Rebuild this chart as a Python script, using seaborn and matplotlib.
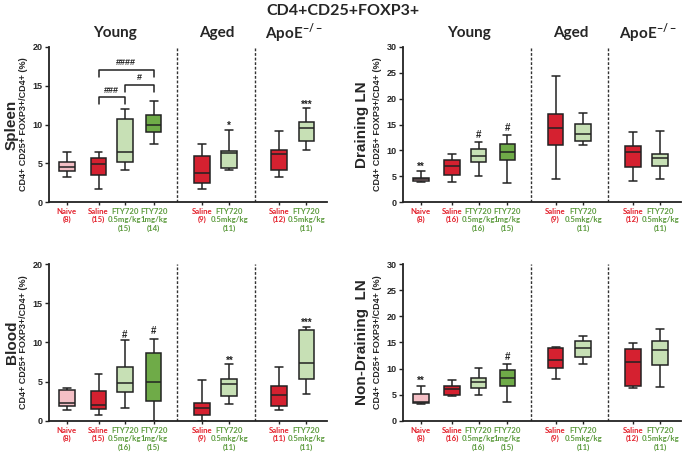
import numpy as np
import pandas as pd
import matplotlib.pyplot as plt
import matplotlib.transforms as mtransforms
import seaborn as sns

sns.set_theme(style="ticks")
plt.rcParams['font.family'] = ['Liberation Sans', 'DejaVu Sans']

# box positions along x, group of each box and its label
positions = [0, 1.15, 2.1, 3.15, 4.9, 5.9, 7.7, 8.7]
groups = ["Naive", "Saline", "FTY05", "FTY1", "Saline", "FTY05", "Saline", "FTY05"]
names = ["Naive", "Saline", "FTY720\n0.5mg/kg", "FTY720\n1mg/kg",
         "Saline", "FTY720\n0.5mkg/kg", "Saline", "FTY720\n0.5mkg/kg"]
label_colors = ["#e3202b", "#e3202b", "#5b9a3c", "#5b9a3c",
                "#e3202b", "#5b9a3c", "#e3202b", "#5b9a3c"]
label_nudge = [0, -2, -2, 5, -3, 3, -3, 3]  # px, keeps the crowded labels apart
palette = {"Naive": "#f4bfc5", "Saline": "#d52130", "FTY05": "#c7e0b5", "FTY1": "#6fab48"}
dividers = [4.0, 6.82]
headers = [("Young", 1.75), ("Aged", 5.45), ("ApoE$^{\\mathregular{-/-}}$", 8.25)]

# five-number summaries: min, q1, median, q3, max
spleen_stats = [[3.2, 4.05, 4.55, 5.2, 6.5], [1.7, 3.55, 4.9, 5.7, 6.4],
                [4.1, 5.1, 6.5, 10.65, 11.95], [7.55, 9.0, 9.9, 11.25, 13.0],
                [1.7, 2.4, 3.7, 6.0, 7.5], [4.1, 4.45, 6.35, 6.6, 9.35],
                [3.2, 4.1, 6.2, 6.7, 9.15], [6.75, 7.85, 9.55, 10.3, 12.1]]
draining_stats = [[3.8, 4.15, 4.4, 4.6, 6.0], [3.85, 5.3, 7.0, 8.15, 9.3],
                  [4.95, 7.65, 8.95, 10.35, 11.7], [3.65, 8.15, 9.65, 11.3, 12.9],
                  [4.5, 11.05, 14.25, 16.95, 24.4], [11.05, 11.8, 13.15, 15.05, 17.3],
                  [4.0, 6.7, 9.65, 10.85, 13.5], [4.5, 7.05, 8.6, 9.3, 13.75]]
blood_stats = [[1.45, 1.95, 2.3, 4.0, 4.25], [0.75, 1.55, 2.1, 3.8, 5.95],
               [1.7, 3.7, 4.9, 6.9, 10.3], [0.0, 2.5, 5.0, 8.6, 10.45],
               [0.0, 0.8, 1.7, 2.3, 5.25], [2.2, 3.2, 4.7, 5.35, 7.2],
               [1.35, 1.95, 3.35, 4.45, 6.9], [3.45, 5.3, 7.45, 11.65, 12.0]]
nondraining_stats = [[3.2, 3.45, 3.7, 5.15, 6.7], [4.7, 5.05, 6.1, 6.75, 7.8],
                     [5.0, 6.25, 7.4, 8.3, 10.2], [3.7, 6.75, 8.3, 9.8, 10.8],
                     [8.0, 10.2, 11.75, 13.9, 14.2], [10.8, 12.3, 14.0, 15.3, 16.25],
                     [6.3, 6.7, 11.25, 13.75, 14.9], [6.5, 10.7, 13.5, 15.25, 17.5]]

spleen_n = [8, 15, 15, 14, 9, 11, 12, 11]
draining_n = [8, 16, 16, 15, 9, 11, 12, 11]
blood_n = [8, 15, 16, 15, 9, 11, 11, 11]
nondraining_n = [8, 16, 16, 15, 9, 11, 12, 11]

# significance marks: (box index, text, y)
spleen_marks = [(5, "*", 9.8), (7, "***", 12.6)]
draining_marks = [(0, "**", 6.9), (2, "#", 13.0), (3, "#", 14.3)]
blood_marks = [(2, "#", 11.0), (3, "#", 11.5), (5, "**", 7.7), (7, "***", 12.5)]
nondraining_marks = [(0, "**", 7.6), (3, "#", 12.2)]
# spleen brackets: (from box, to box, y, text)
spleen_brackets = [(1, 2, 13.5, "###"), (2, 3, 15.1, "#"), (1, 3, 17.0, "####")]

fig = plt.figure(figsize=(6.85, 4.54), dpi=100)

panels = [
    ("Spleen", spleen_stats, spleen_n, 20, spleen_marks, [0.0715, 0.555, 0.406, 0.3415], True),
    ("Draining LN", draining_stats, draining_n, 30, draining_marks, [0.588, 0.555, 0.406, 0.3415], True),
    ("Blood", blood_stats, blood_n, 20, blood_marks, [0.0715, 0.0727, 0.406, 0.3458], False),
    ("Non-Draining  LN", nondraining_stats, nondraining_n, 30, nondraining_marks, [0.588, 0.0727, 0.406, 0.3458], False),
]

for title, stats, ns, ymax, marks, rect, top in panels:
    ax = fig.add_axes(rect)
    df = pd.DataFrame({
        "pos": np.repeat(positions, 5),
        "grp": np.repeat(groups, 5),
        "val": np.concatenate(stats),
    })
    sns.boxplot(data=df, x="pos", y="val", hue="grp", palette=palette,
                native_scale=True, whis=(0, 100), width=0.6, dodge=False,
                saturation=1, linecolor="#222222", linewidth=1.1,
                legend=False, ax=ax)
    for d in dividers:
        ax.axvline(d, color="#333333", lw=1, ls=(0, (2, 1.3)))
    for i, txt, y in marks:
        ax.text(positions[i], y, txt, ha="center", va="center",
                fontsize=7, fontweight="bold", color="#222222")
    if title == "Spleen":
        for a, b, y, txt in spleen_brackets:
            xa, xb = positions[a], positions[b]
            ax.plot([xa, xa, xb, xb], [y - 0.85, y, y, y - 0.85], color="#222222", lw=1.1)
            ax.text((xa + xb) / 2, y + 0.95, txt, ha="center", va="center",
                    fontsize=6.5, fontweight="bold", color="#222222")

    ax.set_xlim(-0.65, 9.45)
    ax.set_ylim(0, ymax)
    ax.set_yticks(range(0, ymax + 1, 5))
    ax.set_xticks(positions)
    ax.set_xticklabels([f"{nm}\n({n})" for nm, n in zip(names, ns)],
                       fontsize=5.6, fontweight="bold", family=["Lato", "DejaVu Sans"],
                       linespacing=1.25)
    for lbl, c, dx in zip(ax.get_xticklabels(), label_colors, label_nudge):
        lbl.set_color(c)
        lbl.set_transform(lbl.get_transform() +
                          mtransforms.ScaledTranslation(dx / 100, 0, fig.dpi_scale_trans))
    for lbl in ax.get_yticklabels():
        lbl.set_fontsize(6.5)
        lbl.set_fontweight("bold")
    ax.tick_params(axis="x", length=2.5, width=1, pad=1.5, color="#222222")
    ax.tick_params(axis="y", length=3, width=1, pad=1.5, color="#222222")
    for side in ["left", "bottom"]:
        ax.spines[side].set_linewidth(1.3)
        ax.spines[side].set_color("#222222")
    sns.despine(ax=ax)
    ax.set_xlabel("")
    ax.set_ylabel("CD4+ CD25+ FOXP3+/CD4+ (%)", fontsize=6.5, fontweight="bold", labelpad=3)
    ax.text(-0.133 if rect[0] < 0.5 else -0.147, 0.5, title, transform=ax.transAxes,
            rotation=90, ha="center", va="center", fontsize=11, fontweight="bold")
    if top:
        for txt, x in headers:
            ax.text(x, 1.09, txt, transform=ax.get_xaxis_transform(), ha="center",
                    va="center", fontsize=11, fontweight="bold", family=["Lato", "DejaVu Sans"])

fig.text(0.5, 1 - 11 / 454, "CD4+CD25+FOXP3+", ha="center", va="center",
         fontsize=11.5, fontweight="bold", family=["Lato", "DejaVu Sans"])

fig.savefig("out.png", dpi=100)
